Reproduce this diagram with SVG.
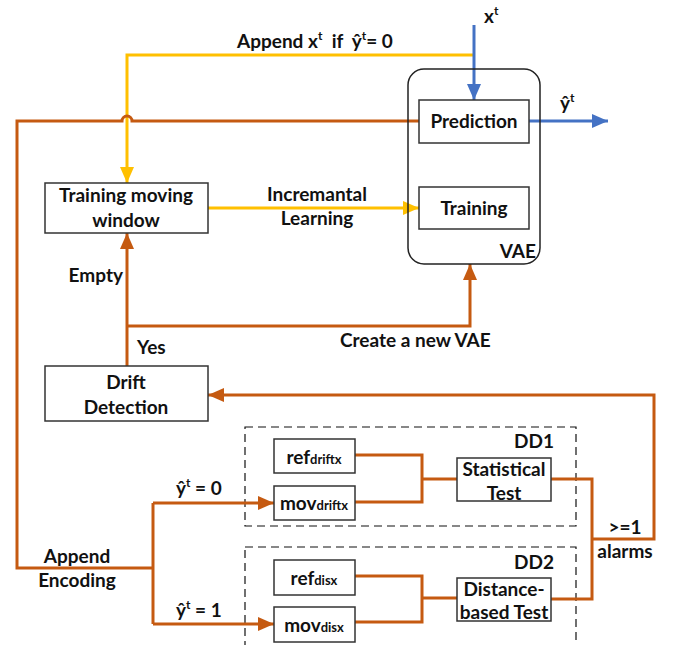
<svg xmlns="http://www.w3.org/2000/svg" width="681" height="645" viewBox="0 0 681 645">
<defs>
<style>
text{font-family:Lato,"Open Sans","Liberation Sans",sans-serif;font-weight:bold;font-size:19px;fill:#111}
.box{fill:#fff;stroke:#333;stroke-width:1.5}
.dash{fill:none;stroke:#111;stroke-width:1.2;stroke-dasharray:8 5}
.o{fill:none;stroke:#C55A11;stroke-width:3}
.y{fill:none;stroke:#FFC000;stroke-width:3}
.b{fill:none;stroke:#4472C4;stroke-width:3}
.sub{font-size:13px}
.sup{font-size:12px}
.c{text-anchor:middle}
</style>
<marker id="ao" viewBox="0 0 16 14" refX="16" refY="7" markerWidth="16" markerHeight="14" markerUnits="userSpaceOnUse" orient="auto"><path d="M0,0 L16,7 L0,14 Z" fill="#C55A11"/></marker>
<marker id="ay" viewBox="0 0 16 14" refX="16" refY="7" markerWidth="16" markerHeight="14" markerUnits="userSpaceOnUse" orient="auto"><path d="M0,0 L16,7 L0,14 Z" fill="#FFC000"/></marker>
<marker id="ab" viewBox="0 0 16 14" refX="16" refY="7" markerWidth="16" markerHeight="14" markerUnits="userSpaceOnUse" orient="auto"><path d="M0,0 L16,7 L0,14 Z" fill="#4472C4"/></marker>
</defs>
<rect width="681" height="645" fill="#fff"/>

<g id="groups">
<rect id="dd1" class="dash" x="245" y="427" width="331" height="99"/>
<rect id="dd2" class="dash" x="245" y="547" width="331" height="110"/>
<text x="554" y="448" text-anchor="end">DD1</text>
<text x="554" y="569" text-anchor="end">DD2</text>
</g>

<g id="connectors">
<path class="y" d="M474,55 H127 V183" marker-end="url(#ay)"/>
<path class="y" d="M208,208 H419" marker-end="url(#ay)"/>
<path class="b" d="M474,25 V100" marker-end="url(#ab)"/>
<path class="b" d="M529,121 H608" marker-end="url(#ab)"/>
<path class="o" d="M419,121 H132 A5,5 0 0 0 122,121 H17 V568 H153"/>
<path class="o" d="M153,503 V624"/>
<path class="o" d="M153,503 H274" marker-end="url(#ao)"/>
<path class="o" d="M153,624 H274" marker-end="url(#ao)"/>
<path class="o" d="M127,366 V233" marker-end="url(#ao)"/>
<path class="o" d="M127,326 H470 V264" marker-end="url(#ao)"/>
<path class="o" d="M355,455 H422 V502 H355 M422,479 H457"/>
<path class="o" d="M355,576 H422 V622 H355 M422,598 H457"/>
<path class="o" d="M551,479 H592 V599 H551 M592,539 H654 V395 H208" marker-end="url(#ao)"/>
</g>

<g id="labels">
<text x="237" y="48">Append x<tspan class="sup" dy="-8">t</tspan><tspan dy="8" xml:space="preserve">  if  ŷ</tspan><tspan class="sup" dy="-8">t</tspan><tspan dy="8">= 0</tspan></text>
<text x="484" y="23">x<tspan class="sup" dy="-8">t</tspan></text>
<text x="560" y="110">ŷ<tspan class="sup" dy="-8">t</tspan></text>
<text class="c" x="317" y="201">Incremantal</text>
<text class="c" x="317" y="225">Learning</text>
<text x="123" y="282" text-anchor="end">Empty</text>
<text x="137" y="354">Yes</text>
<text x="340" y="347">Create a new VAE</text>
<text class="c" x="77" y="563">Append</text>
<text class="c" x="77" y="587">Encoding</text>
<text x="176" y="495">ŷ<tspan class="sup" dy="-8">t</tspan><tspan dy="8"> = 0</tspan></text>
<text x="176" y="617">ŷ<tspan class="sup" dy="-8">t</tspan><tspan dy="8"> = 1</tspan></text>
<text class="c" x="625" y="534">&gt;=1</text>
<text class="c" x="625" y="558">alarms</text>
</g>

<g id="vae">
<rect x="408" y="69" width="132" height="195" rx="16" fill="none" stroke="#222" stroke-width="1.5"/>
<text x="536" y="258" text-anchor="end">VAE</text>
</g>
<g id="prediction">
<rect class="box" x="419" y="100" width="110" height="43"/>
<text class="c" x="474" y="128">Prediction</text>
</g>
<g id="training">
<rect class="box" x="419" y="187" width="110" height="42"/>
<text class="c" x="474" y="215">Training</text>
</g>
<g id="training-window">
<rect class="box" x="45" y="183" width="163" height="50"/>
<text class="c" x="126" y="202">Training moving</text>
<text class="c" x="126" y="227">window</text>
</g>
<g id="drift-detection">
<rect class="box" x="45" y="366" width="163" height="55"/>
<text class="c" x="126" y="389">Drift</text>
<text class="c" x="126" y="414">Detection</text>
</g>
<g id="ref-driftx">
<rect class="box" x="274" y="439" width="81" height="34"/>
<text class="c" x="314" y="464">ref<tspan class="sub">driftx</tspan></text>
</g>
<g id="mov-driftx">
<rect class="box" x="274" y="486" width="81" height="34"/>
<text class="c" x="314" y="510">mov<tspan class="sub">driftx</tspan></text>
</g>
<g id="ref-disx">
<rect class="box" x="274" y="560" width="81" height="35"/>
<text class="c" x="314" y="585">ref<tspan class="sub">disx</tspan></text>
</g>
<g id="mov-disx">
<rect class="box" x="274" y="607" width="81" height="35"/>
<text class="c" x="314" y="632">mov<tspan class="sub">disx</tspan></text>
</g>
<g id="statistical-test">
<rect class="box" x="457" y="458" width="94" height="43"/>
<text class="c" x="504" y="476">Statistical</text>
<text class="c" x="504" y="500">Test</text>
</g>
<g id="distance-test">
<rect class="box" x="457" y="578" width="94" height="43"/>
<text class="c" x="504" y="596">Distance-</text>
<text class="c" x="504" y="619">based Test</text>
</g>
</svg>
